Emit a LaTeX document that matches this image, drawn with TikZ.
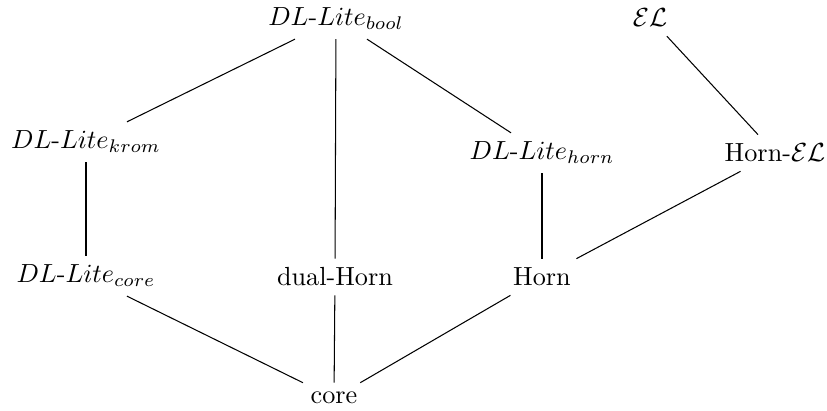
\documentclass[tikz,border=0pt]{standalone}
\usepackage{amsmath}
\begin{document}
\begin{tikzpicture}[x=0.3816pt,y=-0.3816pt,
  lbl/.style={inner sep=3.33pt},
  link/.style={draw=black, line width=0.4pt}]
\useasboundingbox (0,0) rectangle (827,411);
\node[lbl] (bool) at (336,19) {$DL\text{-}Lite_{bool}$};
\node[lbl] (el) at (650,18) {$\mathcal{EL}$};
\node[lbl] (krom) at (86,142) {$DL\text{-}Lite_{krom}$};
\node[lbl] (horn) at (542,153) {$DL\text{-}Lite_{horn}$};
\node[lbl] (hornel) at (775,153) {Horn-$\mathcal{EL}$};
\node[lbl] (litecore) at (86,276) {$DL\text{-}Lite_{core}$};
\node[lbl] (dual) at (335,277) {dual-Horn};
\node[lbl] (hornn) at (542,277) {Horn};
\node[lbl] (core) at (334,398) {core};
\draw[link] (bool) -- (krom);
\draw[link] (bool) -- (dual);
\draw[link] (bool) -- (horn);
\draw[link] (el) -- (hornel);
\draw[link] (krom) -- (litecore);
\draw[link] (horn) -- (hornn);
\draw[link] (hornel) -- (hornn);
\draw[link] (litecore) -- (core);
\draw[link] (dual) -- (core);
\draw[link] (hornn) -- (core);
\end{tikzpicture}
\end{document}
